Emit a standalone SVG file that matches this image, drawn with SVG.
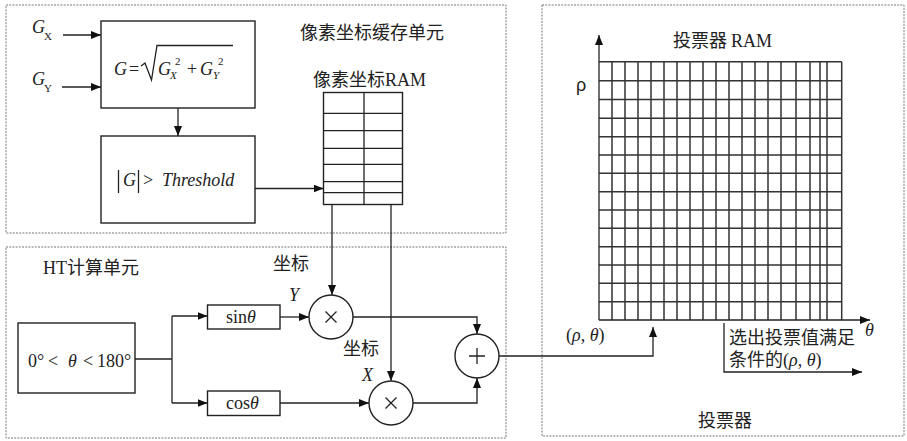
<svg xmlns="http://www.w3.org/2000/svg" width="907" height="441" viewBox="0 0 907 441">
<defs>
<marker id="arr" markerUnits="userSpaceOnUse" markerWidth="11" markerHeight="9" refX="10" refY="4" orient="auto">
<path d="M0,0 L10,4 L0,8 z" fill="#111"/>
</marker>
<style>
.dash{fill:none;stroke:#777;stroke-width:1;stroke-dasharray:2,1.2}
.box{fill:#fff;stroke:#222;stroke-width:1.4}
.ln{fill:none;stroke:#222;stroke-width:1.3}
.ar{fill:none;stroke:#222;stroke-width:1.3;marker-end:url(#arr)}
.grid{fill:none;stroke:#333;stroke-width:1.5}
.t{font-family:"Liberation Serif","Noto Sans CJK SC",serif;font-size:18px;fill:#222}
.i{font-style:italic}
.s{font-size:11px}
.cj{font-family:"Noto Sans CJK SC","Liberation Serif",serif;font-size:18px;fill:#222}
.sans{font-family:"Liberation Sans",sans-serif;font-size:18px;fill:#222}
.rm{font-family:"Liberation Serif",serif}
</style>
</defs>
<rect width="907" height="441" fill="#fff"/>

<g id="pixel-buffer-unit">
<rect class="dash" x="6" y="5" width="500" height="228"/>
<text class="cj" x="300" y="39">像素坐标缓存单元</text>
</g>
<g id="ht-unit">
<rect class="dash" x="6" y="247" width="500" height="191"/>
<text class="cj" x="43" y="274"><tspan class="rm">HT</tspan>计算单元</text>
</g>
<g id="voter">
<rect class="dash" x="542" y="5" width="362" height="431"/>
<text class="cj" x="698" y="427">投票器</text>
</g>

<g id="gx-label">
<text class="t i" x="32" y="33">G</text><text class="t s" x="44" y="40">X</text>
</g>
<g id="gy-label">
<text class="t i" x="32" y="85">G</text><text class="t s" x="44" y="92">Y</text>
</g>

<g id="magnitude">
<rect class="box" x="101" y="21" width="154" height="87"/>
<text class="t i" x="114" y="75">G</text>
<text class="t" x="129" y="75">=</text>
<path class="ln" d="M141,66 L145,63 L151.5,80 L157,45.5 L233,45.5" stroke-width="1.1"/>
<text class="t i" x="158" y="75">G</text>
<text class="t i s" x="170" y="79">X</text>
<text class="t s" x="175" y="65">2</text>
<text class="t" x="187" y="75">+</text>
<text class="t i" x="200" y="75">G</text>
<text class="t i s" x="213" y="79">Y</text>
<text class="t s" x="218" y="65">2</text>
</g>

<g id="threshold">
<rect class="box" x="101" y="136" width="154" height="87"/>
<line class="ln" x1="118.5" y1="170" x2="118.5" y2="193"/>
<line class="ln" x1="138.5" y1="170" x2="138.5" y2="193"/>
<text class="t i" x="123" y="186">G</text>
<text class="t" x="143" y="186">&gt;</text>
<text class="t i" x="162" y="186">Threshold</text>
</g>

<g id="pixel-ram">
<text class="cj" x="313" y="86">像素坐标<tspan class="rm">RAM</tspan></text>
<rect class="box" x="323.5" y="92.5" width="79" height="112"/>
<path class="ln" d="M364,92.5 V204.5 M323.5,113.3 H402.5 M323.5,130.7 H402.5 M323.5,148.3 H402.5 M323.5,164.3 H402.5 M323.5,181.7 H402.5 M323.5,192.7 H402.5"/>
</g>

<g id="theta-range">
<rect class="box" x="18" y="323" width="117" height="70"/>
<text class="t" x="28" y="367">0°</text>
<text class="t" x="48" y="367">&lt;</text>
<text class="t i" x="68" y="367">θ</text>
<text class="t" x="83" y="367">&lt;</text>
<text class="t" x="97" y="367">180°</text>
</g>

<g id="sin">
<rect class="box" x="207.5" y="305" width="72.5" height="24"/>
<text class="t" x="226" y="323">sin<tspan class="i">θ</tspan></text>
</g>
<g id="cos">
<rect class="box" x="207.5" y="391" width="72.5" height="24.5"/>
<text class="t" x="226" y="409">cos<tspan class="i">θ</tspan></text>
</g>

<g id="mul-y">
<text class="cj" x="273" y="270">坐标</text>
<text class="t i" x="289" y="301">Y</text>
<circle class="box" cx="331" cy="317" r="22"/>
<path class="ln" d="M325.5,311.5 L336.5,322.5 M336.5,311.5 L325.5,322.5" stroke-width="1"/>
</g>
<g id="mul-x">
<text class="cj" x="343" y="355">坐标</text>
<text class="t i" x="362" y="381">X</text>
<circle class="box" cx="391" cy="403" r="22"/>
<path class="ln" d="M385.5,397.5 L396.5,408.5 M396.5,397.5 L385.5,408.5" stroke-width="1"/>
</g>
<g id="adder">
<circle class="box" cx="477" cy="356" r="22"/>
<path class="ln" d="M477,348 V364 M469,356 H485" stroke-width="1"/>
</g>

<g id="vote-ram">
<text class="cj" x="673" y="47">投票器 <tspan class="rm">RAM</tspan></text>
<text class="sans" x="576" y="91">ρ</text>
<path class="grid" d="M599,61.7 H841.7 M599,80.7 H841.7 M599,99.5 H841.7 M599,118.3 H841.7 M599,136.7 H841.7 M599,155 H841.7 M599,173.3 H841.7 M599,191.7 H841.7 M599,210 H841.7 M599,228.3 H841.7 M599,246.7 H841.7 M599,265 H841.7 M599,283.3 H841.7 M599,301.7 H841.7
M612,61.7 V320 M625,61.7 V320 M638,61.7 V320 M651,61.7 V320 M664,61.7 V320 M677,61.7 V320 M690,61.7 V320 M703,61.7 V320 M716,61.7 V320 M729,61.7 V320 M742,61.7 V320 M755,61.7 V320 M768,61.7 V320 M781,61.7 V320 M796,61.7 V320 M810,61.7 V320 M820,61.7 V320 M827,61.7 V320 M841.7,61.7 V320"/>
<text class="t i" x="865" y="336">θ</text>
<text class="t" x="566" y="341">(<tspan class="i">ρ</tspan>, <tspan class="i">θ</tspan>)</text>
<text class="t" x="729" y="344">选出投票值满足</text>
<text class="t" x="729" y="366">条件的(<tspan class="i">ρ</tspan>, <tspan class="i">θ</tspan>)</text>
</g>

<g id="connectors">
<line class="ar" x1="63" y1="35" x2="101" y2="35"/>
<line class="ar" x1="62" y1="87" x2="101" y2="87"/>
<line class="ar" x1="178" y1="108" x2="178" y2="136"/>
<line class="ar" x1="255" y1="188.5" x2="323.5" y2="188.5"/>
<line class="ar" x1="332" y1="204.5" x2="332" y2="295"/>
<line class="ar" x1="391" y1="204.5" x2="391" y2="381"/>
<path class="ln" d="M135,359 H172 M172,316 V403"/>
<line class="ar" x1="172" y1="316" x2="207.5" y2="316"/>
<line class="ar" x1="172" y1="403" x2="207.5" y2="403"/>
<line class="ar" x1="280" y1="317" x2="309" y2="317"/>
<line class="ar" x1="280" y1="403" x2="369" y2="403"/>
<polyline class="ar" points="353,317 477,317 477,334"/>
<polyline class="ar" points="413,403 477,403 477,378"/>
<polyline class="ar" points="499,356 653,356 653,327"/>
<polyline class="ar" points="724,323 724,372 862,372"/>
<polyline class="ar" points="599,320 599,35"/>
<polyline class="ar" points="599,320 870,320"/>
</g>
</svg>
